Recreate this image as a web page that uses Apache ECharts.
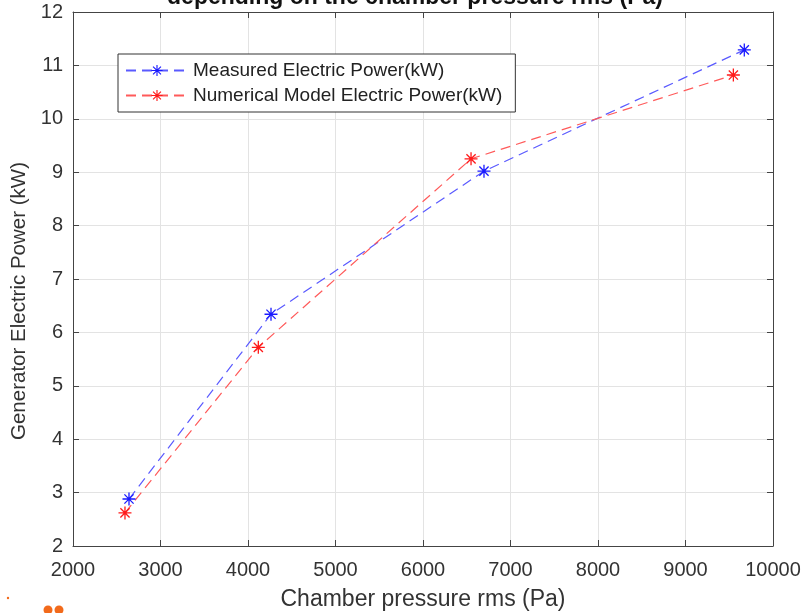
<!DOCTYPE html>
<html>
<head>
<meta charset="utf-8">
<script src="https://cdn.jsdelivr.net/npm/echarts@6/dist/echarts.min.js"></script>
<style>
  html, body { margin: 0; padding: 0; background: #fff; }
  #chart { width: 801px; height: 613px; }
</style>
</head>
<body>
<div id="chart"></div>
<script>
// chamber pressure rms (Pa) / generator power (kW)
var measuredX = [2640, 4263, 6697, 9672];
var measuredY = [2.88, 6.34, 9.02, 11.29];
var modelX = [2594, 4118, 6549, 9547];
var modelY = [2.62, 5.72, 9.25, 10.82];
var xTicks = [2000, 3000, 4000, 5000, 6000, 7000, 8000, 9000, 10000];
var yTicks = [2, 3, 4, 5, 6, 7, 8, 9, 10, 11, 12];

// matlab style '*' marker
var star = 'path://M9,0L11,0L11,20L9,20Z M0,9L20,9L20,11L0,11Z ' +
    'M3.64,2.22L17.78,16.36L16.36,17.78L2.22,3.64Z ' +
    'M17.78,3.64L3.64,17.78L2.22,16.36L16.36,2.22Z';

function pairs(xs, ys) {
    return xs.map(function (x, i) { return [x, ys[i]]; });
}

var chart = echarts.init(document.getElementById('chart'));
var font = 'Liberation Sans, Arial, sans-serif';
var axisCol = '#444';

var option = {
    animation: false,
    backgroundColor: '#fff',
    legend: {
        orient: 'vertical',
        left: 118,
        top: 54,
        padding: [7, 13, 7, 7],
        itemGap: 6,
        itemWidth: 62,
        itemHeight: 14,
        backgroundColor: '#fff',
        borderColor: '#333',
        borderWidth: 1,
        textStyle: { fontFamily: font, fontSize: 19, color: '#222' },
        data: ['Measured Electric Power(kW)', 'Numerical Model Electric Power(kW)']
    },
    grid: { left: 73, right: 28, top: 12, bottom: 67, outerBoundsMode: 'none' },
    xAxis: [{
        type: 'value',
        min: 2000, max: 10000, interval: 1000,
        name: 'Chamber pressure rms (Pa)',
        nameLocation: 'middle',
        nameGap: 42,
        nameTextStyle: { fontFamily: font, fontSize: 23, color: '#333' },
        axisLine: { lineStyle: { color: axisCol, width: 1 } },
        axisTick: { inside: true, length: 6, lineStyle: { color: axisCol } },
        axisLabel: {
            fontFamily: font, fontSize: 20, color: '#333', margin: 14,
            formatter: function (v) { return xTicks.indexOf(v) >= 0 ? String(v) : ''; }
        },
        splitLine: { show: true, lineStyle: { color: '#e3e3e3' } }
    }, {
        type: 'value', position: 'top',
        min: 2000, max: 10000, interval: 1000,
        axisLine: { lineStyle: { color: axisCol, width: 1 } },
        axisTick: { inside: true, length: 6, lineStyle: { color: axisCol } },
        axisLabel: { show: false },
        splitLine: { show: false }
    }],
    yAxis: [{
        type: 'value',
        min: 2, max: 12, interval: 1,
        name: 'Generator Electric Power (kW)',
        nameLocation: 'middle',
        nameGap: 42,
        nameTextStyle: { fontFamily: font, fontSize: 20.5, color: '#333', padding: [0, 44, 0, 0] },
        axisLine: { show: true, lineStyle: { color: axisCol, width: 1 } },
        axisTick: { show: true, inside: true, length: 6, lineStyle: { color: axisCol } },
        axisLabel: {
            fontFamily: font, fontSize: 20, color: '#333', margin: 10,
            formatter: function (v) { return yTicks.indexOf(v) >= 0 ? String(v) : ''; }
        },
        splitLine: { show: true, lineStyle: { color: '#e3e3e3' } }
    }, {
        type: 'value', position: 'right',
        min: 2, max: 12, interval: 1,
        axisLine: { show: true, lineStyle: { color: axisCol, width: 1 } },
        axisTick: { show: true, inside: true, length: 6, lineStyle: { color: axisCol } },
        axisLabel: { show: false },
        splitLine: { show: false }
    }],
    series: [{
        name: 'Measured Electric Power(kW)',
        type: 'line',
        data: pairs(measuredX, measuredY),
        symbol: star,
        symbolSize: 13,
        itemStyle: { color: '#1a1aff' },
        lineStyle: { color: '#5a5aff', width: 1.2, type: [10, 6] }
    }, {
        name: 'Numerical Model Electric Power(kW)',
        type: 'line',
        data: pairs(modelX, modelY),
        symbol: star,
        symbolSize: 13,
        itemStyle: { color: '#ff1a1a' },
        lineStyle: { color: '#ff5a5a', width: 1.2, type: [10, 6] }
    }],
    graphic: [
        {
            // title is cut off at the top of the picture
            type: 'text', z: 100,
            style: {
                x: 415, y: 9,
                text: 'depending on the chamber pressure rms (Pa)',
                align: 'center', verticalAlign: 'bottom',
                font: 'bold 23px Liberation Sans, Arial, sans-serif',
                fill: '#111'
            }
        },
        { type: 'circle', shape: { cx: 8, cy: 598, r: 1.2 }, style: { fill: '#f26a1b' } },
        { type: 'circle', shape: { cx: 48, cy: 610, r: 4.5 }, style: { fill: '#f26a1b' } },
        { type: 'circle', shape: { cx: 59, cy: 610, r: 4.5 }, style: { fill: '#f26a1b' } }
    ]
};

chart.setOption(option);
</script>
</body>
</html>
